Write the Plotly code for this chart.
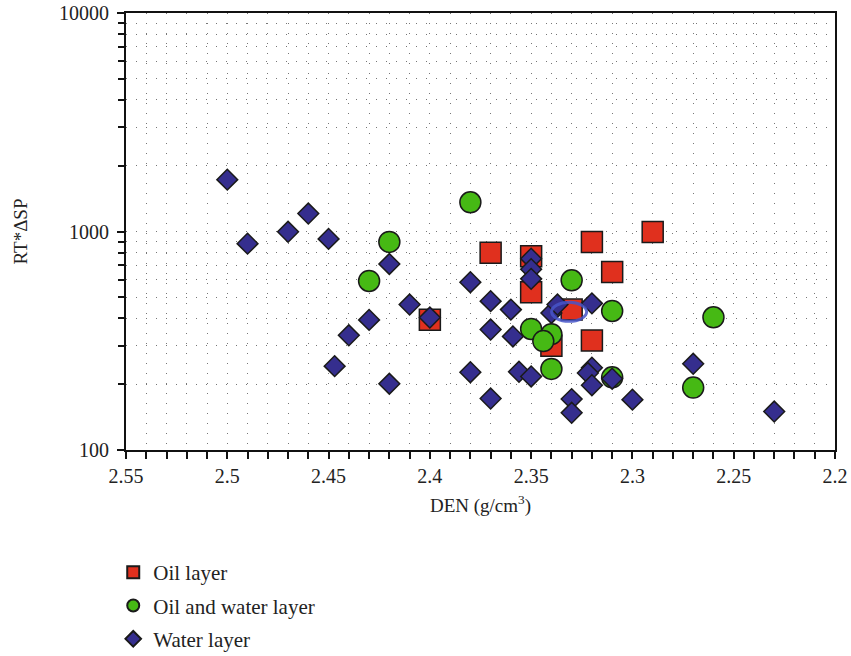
import plotly.graph_objects as go

# ---- data ----
oil_den = [2.40, 2.37, 2.35, 2.35, 2.32, 2.29, 2.31, 2.33, 2.32, 2.34]
oil_rt = [395, 800, 770, 527, 896, 995, 652, 439, 317, 300]

ow_den = [2.38, 2.42, 2.43, 2.33, 2.31, 2.35, 2.34, 2.344, 2.34, 2.31, 2.26, 2.27]
ow_rt = [1360, 896, 594, 598, 433, 358, 339, 315, 235, 215, 405, 193]

water_den = [2.50, 2.49, 2.47, 2.46, 2.45, 2.42, 2.41, 2.40, 2.43, 2.44, 2.447, 2.42,
             2.38, 2.37, 2.36, 2.37, 2.359, 2.38, 2.356, 2.35, 2.37,
             2.35, 2.35, 2.35,
             2.34, 2.337, 2.32,
             2.32, 2.322, 2.32, 2.31,
             2.33, 2.33, 2.30, 2.27, 2.23]
water_rt = [1727, 880, 997, 1208, 925, 710, 463, 404, 394, 335, 242, 201,
            586, 480, 439, 356, 331, 227, 228, 217, 172,
            751, 672, 607,
            424, 463, 469,
            238, 225, 198, 212,
            171, 148, 170, 248, 150]

x_tickvals = [2.55, 2.5, 2.45, 2.4, 2.35, 2.3, 2.25, 2.2]
x_ticktext = ["2.55", "2.5", "2.45", "2.4", "2.35", "2.3", "2.25", "2.2"]
y_tickvals = [100, 1000, 10000]
y_ticktext = ["100", "1000", "10000"]

# highlighted point (ellipse)
ell_den = [2.3399, 2.3226]
ell_rt = [388, 474]

SERIF = "Liberation Serif"
outline = dict(color="#1a1a1a", width=1.5)

fig = go.Figure()
fig.add_trace(go.Scatter(x=oil_den, y=oil_rt, mode="markers", name="Oil layer",
                         legendgroup="a",
                         marker=dict(symbol="square", size=21, color="#e0301e", line=outline)))
fig.add_trace(go.Scatter(x=ow_den, y=ow_rt, mode="markers", name="Oil and water layer",
                         legendgroup="b",
                         marker=dict(symbol="circle", size=21, color="#46b914", line=outline)))
fig.add_trace(go.Scatter(x=water_den, y=water_rt, mode="markers", name="Water layer",
                         legendgroup="c",
                         marker=dict(symbol="diamond", size=16, color="#352e8e", line=outline)))

fig.add_shape(type="circle", xref="x", yref="y",
              x0=ell_den[0], x1=ell_den[1], y0=ell_rt[0], y1=ell_rt[1],
              line=dict(color="rgba(70,85,200,0.85)", width=3))

grid_dash = "1px,9px"
fig.update_xaxes(
    range=[2.55, 2.2], tickvals=x_tickvals, ticktext=x_ticktext,
    ticks="outside", ticklen=7, tickwidth=2, tickcolor="#111",
    showline=True, linecolor="#111", linewidth=2, mirror=True,
    showgrid=True, gridcolor="#777", griddash=grid_dash, gridwidth=1,
    minor=dict(dtick=0.01, tick0=2.2, ticks="outside", ticklen=7, tickwidth=2, tickcolor="#111",
               showgrid=True, gridcolor="#777", griddash=grid_dash, gridwidth=1),
    zeroline=False,
    tickfont=dict(family=SERIF, size=20, color="#222"),
    title=dict(text="DEN (g/cm<sup>3</sup>)", font=dict(family=SERIF, size=19, color="#222"), standoff=13),
)
fig.update_yaxes(
    type="log", range=[2, 4], tickvals=y_tickvals, ticktext=y_ticktext,
    ticks="outside", ticklen=7, tickwidth=2, tickcolor="#111",
    showline=True, linecolor="#111", linewidth=2, mirror=True,
    showgrid=True, gridcolor="#777", griddash=grid_dash, gridwidth=1,
    minor=dict(dtick="D1", ticks="outside", ticklen=6, tickwidth=2, tickcolor="#111",
               showgrid=True, gridcolor="#777", griddash=grid_dash, gridwidth=1),
    zeroline=False, ticklabelstandoff=4,
    tickfont=dict(family=SERIF, size=20, color="#222"),
    title=dict(text="RT*ΔSP", font=dict(family=SERIF, size=19, color="#222"), standoff=26),
)

fig.update_layout(
    width=851, height=656,
    margin=dict(l=126, r=16, t=13, b=206, autoexpand=False),
    paper_bgcolor="white", plot_bgcolor="white",
    showlegend=True,
    legend=dict(x=-0.018, y=-0.2336, xanchor="left", yanchor="top",
                orientation="v", itemsizing="constant", tracegroupgap=3,
                font=dict(family=SERIF, size=21, color="#222"),
                bgcolor="rgba(0,0,0,0)"),
)

fig.write_html("out.html", config=dict(displayModeBar=False),
               post_script="document.body.style.margin='0';document.body.style.overflow='hidden';")
